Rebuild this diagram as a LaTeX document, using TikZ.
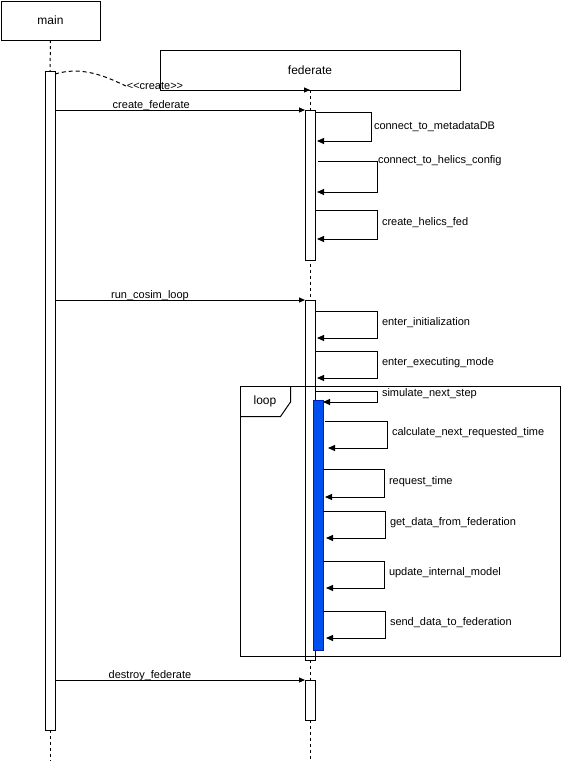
\documentclass[tikz,border=0pt]{standalone}
\usepackage{fontspec}
\newfontfamily\diafont{Liberation Sans}
\usetikzlibrary{arrows.meta, positioning, calc}
\definecolor{actblue}{HTML}{0050EF}
\definecolor{actblueline}{HTML}{001DBC}

\begin{document}
\begin{tikzpicture}[x=1pt, y=-1pt, line width=1pt,
    actorbox/.style={draw, fill=white, inner sep=0pt, outer sep=0pt,
        font=\diafont\fontsize{12}{14}\selectfont},
    actbar/.style={draw, fill=white, minimum width=10pt, inner sep=0pt, outer sep=0pt},
    lifeline/.style={dash pattern=on 3pt off 3pt},
    msg/.style={-{Triangle[length=6pt,width=5pt]}},
    selfmsg/.style={-{Triangle[length=7pt,width=6pt]}},
    msglbl/.style={font=\diafont\fontsize{11}{13}\selectfont, inner sep=0.5pt, anchor=base}
]
    \useasboundingbox (0,0) rectangle (561,761);

    % ============================================================
    % LIFELINE HEADS
    % ============================================================
    \node[actorbox, minimum width=99pt, minimum height=39pt] (main) at (50.5,20.5) {main};
    \node[actorbox, minimum width=300pt, minimum height=40pt] (fed) at (310,70) {federate};
    \coordinate (mainend) at (50,761);
    \coordinate (fedend) at (310,761);

    % ============================================================
    % LIFELINES AND ACTIVATIONS
    % ============================================================
    \draw[lifeline] (fed.south) -- (fedend);
    \node[actbar, minimum height=659pt] (mainact) at (50,400.5) {};
    \draw[lifeline] (main.south) -- (mainact.north);
    \draw[lifeline] (mainact.south) -- (mainend);

    \node[actbar, minimum height=150pt] (fa1) at (310,185) {};
    \node[actbar, minimum height=360pt] (fa2) at (310,480) {};
    \node[actbar, minimum height=40pt] (fa3) at (310,700) {};

    % ============================================================
    % LOOP FRAME
    % ============================================================
    \draw (240.5,386) rectangle (560,656);
    \draw (240.5,416.5) -- (280.5,416.5) -- (290.5,402) -- (290.5,386);
    \node[font=\diafont\fontsize{12}{14}\selectfont] (looplbl) at (265,401) {loop};

    \node[actbar, fill=actblue, draw=actblueline, minimum height=250pt] (loopact) at (318,525) {};

    % ============================================================
    % CREATE MESSAGE
    % ============================================================
    \node[msglbl] (cr) at (155,89.5) {<<create>>};
    \draw[dash pattern=on 4pt off 3pt]
        ($(mainact.north east)+(0,3)$) .. controls (82,66) and (105,76) .. (cr.west);
    \draw[msg] (cr.east |- fed.south) -- (fed.south);

    % ============================================================
    % CALLS FROM MAIN
    % ============================================================
    \draw[msg] (mainact.east |- fa1.north) --
        node[msglbl, pos=0.385, yshift=2pt] {create\_federate} (fa1.north west);
    \draw[msg] (mainact.east |- fa2.north) --
        node[msglbl, pos=0.38, yshift=2pt] {run\_cosim\_loop} (fa2.north west);
    \draw[msg] (mainact.east |- fa3.north) --
        node[msglbl, pos=0.38, yshift=2pt] {destroy\_federate} (fa3.north west);

    % ============================================================
    % SELF CALLS
    % ============================================================
    \foreach \xs/\ya/\xr/\yb/\xe/\lx/\ly/\txt in {
        315/112/371/141/317/373/127/connect\_to\_metadataDB,
        318/161/377/192/317/377/161/connect\_to\_helics\_config,
        315/210/377/239/317/381/223/create\_helics\_fed,
        315/311/377/338/317/381/323/enter\_initialization,
        315/351/377/378/317/381/363/enter\_executing\_mode,
        316/391/377/402/323/381/394/simulate\_next\_step,
        325/421/387/448/328/391/433/calculate\_next\_requested\_time,
        323/469/384/497/325/388/482/request\_time,
        323/511/385/538/326/389/523/get\_data\_from\_federation,
        323/561/384/588/326/388/573/update\_internal\_model,
        323/611/385/638/326/389/623/send\_data\_to\_federation}
    {
        \draw[selfmsg] (\xs,\ya) -- (\xr,\ya) -- (\xr,\yb) -- (\xe,\yb);
        \node[font=\diafont\fontsize{11}{13}\selectfont, anchor=west, inner sep=0.5pt]
            at (\lx,\ly) {\txt};
    }

\end{tikzpicture}
\end{document}
